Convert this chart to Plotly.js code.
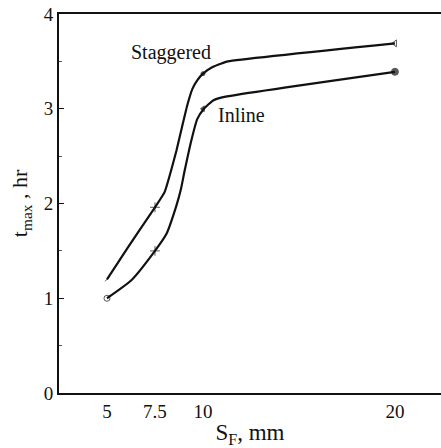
<!DOCTYPE html>
<html>
<head>
<meta charset="utf-8">
<script src="https://cdn.plot.ly/plotly-3.0.1.min.js"></script>
<style>
  html, body { margin: 0; padding: 0; background: #fff; overflow: hidden; }
  #chart { width: 441px; height: 448px; }
</style>
</head>
<body>
<div id="chart"></div>
<script>
// Measured maximum time for the two fin arrangements
const pitchMm = [5, 7.5, 10, 20];
const staggeredHr = [1.2, 1.96, 3.37, 3.69];
const inlineHr = [1.0, 1.5, 3.0, 3.39];

// Smooth fitted curves through the measurements
const staggeredCurveX = [5.0, 6.1, 7.5, 8.0, 8.3, 8.62, 8.9, 9.2, 9.45, 9.7, 10.0, 10.5, 11.0, 11.3, 20.0];
const staggeredCurveY = [1.2, 1.54, 1.96, 2.12, 2.32, 2.56, 2.80, 3.05, 3.21, 3.30, 3.37, 3.44, 3.48, 3.50, 3.69];
const inlineCurveX = [5.0, 6.27, 7.5, 8.1, 8.62, 8.85, 9.05, 9.4, 9.7, 10.05, 10.55, 11.25, 20.0];
const inlineCurveY = [1.0, 1.19, 1.5, 1.68, 1.98, 2.15, 2.35, 2.67, 2.89, 3.0, 3.09, 3.13, 3.39];

const xTicks = [5, 7.5, 10, 20];
const xTickText = ['5', '7.5', '10', '20'];
const yTicks = [0, 1, 2, 3, 4];

const serif = 'Liberation Serif, Times New Roman, serif';
const ink = '#111';

const traces = [
  {
    x: staggeredCurveX, y: staggeredCurveY, mode: 'lines', name: 'Staggered',
    line: { color: ink, width: 2.2, shape: 'spline', smoothing: 0.5 }, hoverinfo: 'skip'
  },
  {
    x: inlineCurveX, y: inlineCurveY, mode: 'lines', name: 'Inline',
    line: { color: ink, width: 2.2, shape: 'spline', smoothing: 0.5 }, hoverinfo: 'skip'
  },
  {
    x: pitchMm, y: staggeredHr, mode: 'markers', name: 'Staggered data',
    marker: {
      color: ink, size: [4, 7, 4, 6],
      symbol: ['line-ne', 'cross-thin', 'circle', 'triangle-left-open'],
      line: { color: ink, width: 1 }
    }
  },
  {
    x: pitchMm, y: inlineHr, mode: 'markers', name: 'Inline data',
    marker: {
      color: ink, size: [6, 7, 5, 7],
      symbol: ['circle-open', 'cross-thin', 'triangle-left', 'circle'],
      line: { color: ink, width: 1 }
    }
  }
];

const layout = {
  width: 441, height: 448,
  margin: { l: 59, r: 0, t: 14, b: 55 },
  paper_bgcolor: '#fff', plot_bgcolor: '#fff',
  showlegend: false,
  font: { family: serif, color: ink },
  xaxis: {
    range: [2.5, 22.4],
    tickvals: xTicks, ticktext: xTickText,
    ticks: '', showgrid: false, zeroline: false,
    showline: true, linecolor: ink, linewidth: 2, mirror: true,
    tickfont: { family: serif, size: 19, color: ink },
    title: { text: 'S<sub>F</sub>, mm', font: { family: serif, size: 23, color: ink }, standoff: 6 }
  },
  yaxis: {
    range: [0, 4],
    tickvals: yTicks,
    ticks: 'inside', ticklen: 5, tickwidth: 1, tickcolor: ink,
    minor: { dtick: 0.5, ticks: 'inside', ticklen: 3, tickcolor: '#555', showgrid: false },
    showgrid: false, zeroline: false,
    showline: true, linecolor: ink, linewidth: 2,
    tickfont: { family: serif, size: 19, color: ink },
    title: { text: 't<sub>max</sub> , hr', font: { family: serif, size: 22, color: ink }, standoff: 10 }
  },
  annotations: [
    { x: 8.32, y: 3.59, xref: 'x', yref: 'y', text: 'Staggered', showarrow: false,
      font: { family: serif, size: 20, color: ink } },
    { x: 12.0, y: 2.93, xref: 'x', yref: 'y', text: 'Inline', showarrow: false,
      font: { family: serif, size: 20, color: ink } }
  ]
};

Plotly.newPlot('chart', traces, layout, { staticPlot: true, displayModeBar: false });
</script>
</body>
</html>
